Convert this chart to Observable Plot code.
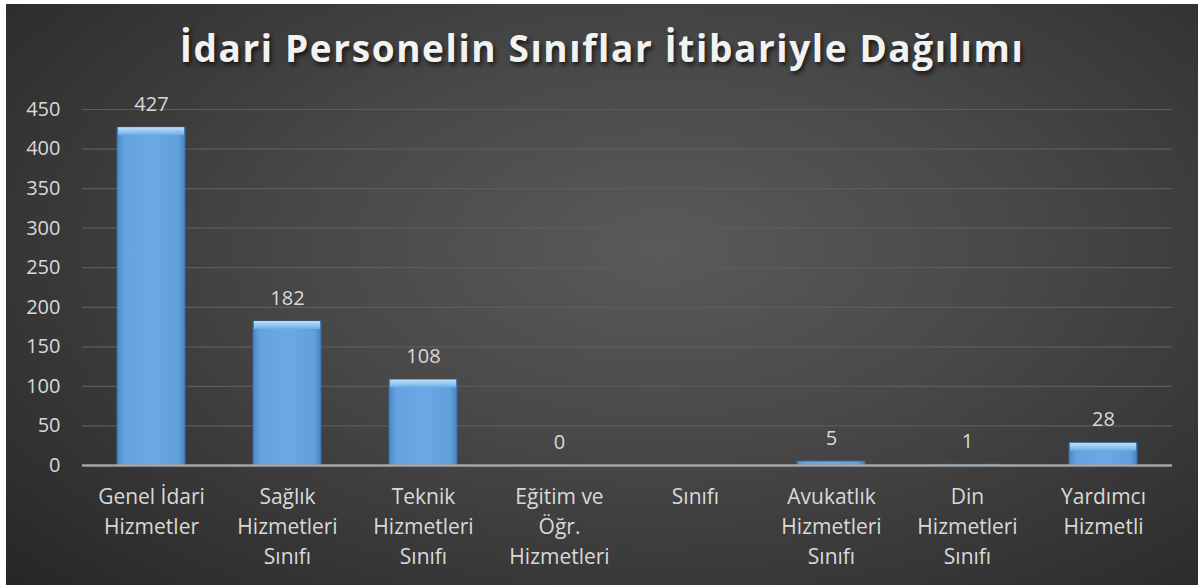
<!DOCTYPE html>
<html>
<head>
<meta charset="utf-8">
<script src="https://cdn.jsdelivr.net/npm/d3@7"></script>
<script src="https://cdn.jsdelivr.net/npm/@observablehq/plot@0.6"></script>
<style>
  html, body { margin: 0; padding: 0; background: #ffffff; }
  #wrap {
    position: absolute; left: 6px; top: 4px; width: 1192px; height: 581px;
    background: radial-gradient(ellipse 75% 85% at 55% 42%, #5a5a5a 0%, #484848 40%, #2f2f2f 85%, #262626 100%);
    font-family: "Open Sans", sans-serif;
    overflow: hidden;
  }
  #title {
    height: 90px; box-sizing: border-box; padding-top: 25px;
    text-align: center; color: #f2f2f2;
    font-family: "Open Sans", sans-serif; font-weight: bold; font-size: 37px;
    letter-spacing: 1.6px; line-height: 1;
    text-shadow: 2px 3px 4px rgba(0,0,0,0.65);
  }
  svg { display: block; }
</style>
</head>
<body>
<div id="wrap">
  <div id="title">İdari Personelin Sınıflar İtibariyle Dağılımı</div>
  <div id="chart"></div>
</div>
<script>
const categories = [
  "Genel İdari\nHizmetler",
  "Sağlık\nHizmetleri\nSınıfı",
  "Teknik\nHizmetleri\nSınıfı",
  "Eğitim ve\nÖğr.\nHizmetleri",
  "Sınıfı",
  "Avukatlık\nHizmetleri\nSınıfı",
  "Din\nHizmetleri\nSınıfı",
  "Yardımcı\nHizmetli"
];
const values = [427, 182, 108, 0, null, 5, 1, 28];
const yTicks = [0, 50, 100, 150, 200, 250, 300, 350, 400, 450];

const data = categories.map((c, i) => ({category: c, value: values[i]}));
const present = data.filter(d => d.value != null);

const svg = Plot.plot({
  width: 1192,
  height: 491,
  marginTop: 15,
  marginBottom: 120,
  marginLeft: 76,
  marginRight: 26,
  style: {background: "transparent", fontFamily: "'Open Sans', sans-serif", color: "#d9d9d9", overflow: "visible"},
  x: {domain: categories, paddingInner: 0.5, paddingOuter: 0.25, label: null, axis: null},
  y: {domain: [0, 450], label: null, axis: null},
  marks: [
    Plot.ruleY(yTicks.filter(t => t > 0), {stroke: "#5c5c5c", strokeWidth: 1.2}),
    Plot.barY(present, {x: "category", y: "value", fill: "url(#barGrad)", stroke: "#3a6fa6", strokeWidth: 0.8}),
    Plot.barY(present.filter(d => d.value >= 10), {x: "category", y1: "value", y2: "value", insetBottom: -8, insetLeft: 1, insetRight: 1, fill: "url(#capGrad)"}),
    Plot.ruleY([0], {stroke: "#a6a6a6", strokeWidth: 2.5}),
    Plot.text(present, {x: "category", y: "value", text: d => String(d.value), dy: -17, lineAnchor: "bottom", fill: "#d9d9d9", fontSize: 20}),
    Plot.axisY({ticks: yTicks, tickSize: 0, tickPadding: 22, fontSize: 20, fill: "#d9d9d9", label: null}),
    Plot.axisX({tickSize: 0, tickPadding: 17, lineHeight: 1.43, fontSize: 21, lineAnchor: "top", fill: "#d9d9d9", label: null})
  ]
});

const defs = d3.select(svg).insert("defs", ":first-child");
const bg = defs.append("linearGradient").attr("id", "barGrad").attr("x1", 0).attr("x2", 1).attr("y1", 0).attr("y2", 0);
bg.append("stop").attr("offset", "0").attr("stop-color", "#4a87c6");
bg.append("stop").attr("offset", "0.1").attr("stop-color", "#64a3df");
bg.append("stop").attr("offset", "0.5").attr("stop-color", "#6aa9e5");
bg.append("stop").attr("offset", "0.9").attr("stop-color", "#62a0dc");
bg.append("stop").attr("offset", "1").attr("stop-color", "#4683c0");
const cg = defs.append("linearGradient").attr("id", "capGrad").attr("x1", 0).attr("x2", 0).attr("y1", 0).attr("y2", 1);
cg.append("stop").attr("offset", "0").attr("stop-color", "#bfe0f9");
cg.append("stop").attr("offset", "0.6").attr("stop-color", "#8ec3ef");
cg.append("stop").attr("offset", "1").attr("stop-color", "#6aa9e5");

document.getElementById("chart").appendChild(svg);
</script>
</body>
</html>
